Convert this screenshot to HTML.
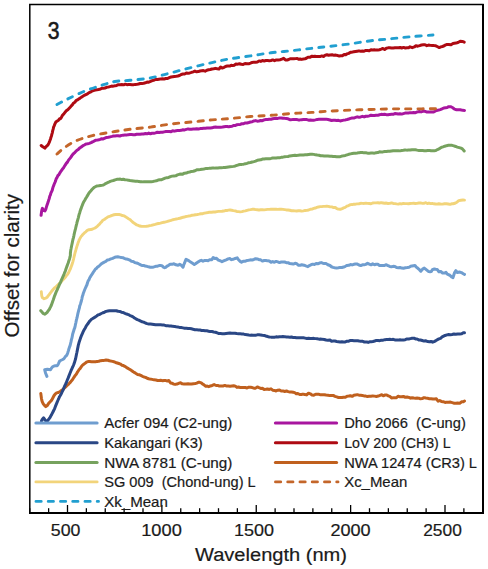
<!DOCTYPE html>
<html><head><meta charset="utf-8"><style>
html,body{margin:0;padding:0;background:#fff;}
body{width:488px;height:569px;overflow:hidden;}
svg{display:block;}
text{font-family:"Liberation Sans", sans-serif;fill:#1a1a1a;stroke:#1a1a1a;stroke-width:0.2px;}
</style></head><body>
<svg width="488" height="569" viewBox="0 0 488 569">
<rect x="0" y="0" width="488" height="569" fill="#fff"/>

<path d="M29.8 4.5 H483 V512.8 H29.8 Z" fill="none" stroke="#000" stroke-width="1.5"/>
<line x1="29" y1="512.9" x2="484" y2="512.9" stroke="#000" stroke-width="2"/>
<line x1="483" y1="4" x2="483" y2="513.8" stroke="#000" stroke-width="2"/>
<line x1="29.75" y1="508.2" x2="29.75" y2="512.5" stroke="#000" stroke-width="1.3"/>
<line x1="48.62" y1="508.2" x2="48.62" y2="512.5" stroke="#000" stroke-width="1.3"/>
<line x1="67.50" y1="505.0" x2="67.50" y2="512.5" stroke="#000" stroke-width="1.3"/>
<line x1="86.38" y1="508.2" x2="86.38" y2="512.5" stroke="#000" stroke-width="1.3"/>
<line x1="105.25" y1="508.2" x2="105.25" y2="512.5" stroke="#000" stroke-width="1.3"/>
<line x1="124.12" y1="508.2" x2="124.12" y2="512.5" stroke="#000" stroke-width="1.3"/>
<line x1="143.00" y1="508.2" x2="143.00" y2="512.5" stroke="#000" stroke-width="1.3"/>
<line x1="161.88" y1="505.0" x2="161.88" y2="512.5" stroke="#000" stroke-width="1.3"/>
<line x1="180.75" y1="508.2" x2="180.75" y2="512.5" stroke="#000" stroke-width="1.3"/>
<line x1="199.62" y1="508.2" x2="199.62" y2="512.5" stroke="#000" stroke-width="1.3"/>
<line x1="218.50" y1="508.2" x2="218.50" y2="512.5" stroke="#000" stroke-width="1.3"/>
<line x1="237.38" y1="508.2" x2="237.38" y2="512.5" stroke="#000" stroke-width="1.3"/>
<line x1="256.25" y1="505.0" x2="256.25" y2="512.5" stroke="#000" stroke-width="1.3"/>
<line x1="275.12" y1="508.2" x2="275.12" y2="512.5" stroke="#000" stroke-width="1.3"/>
<line x1="294.00" y1="508.2" x2="294.00" y2="512.5" stroke="#000" stroke-width="1.3"/>
<line x1="312.88" y1="508.2" x2="312.88" y2="512.5" stroke="#000" stroke-width="1.3"/>
<line x1="331.75" y1="508.2" x2="331.75" y2="512.5" stroke="#000" stroke-width="1.3"/>
<line x1="350.62" y1="505.0" x2="350.62" y2="512.5" stroke="#000" stroke-width="1.3"/>
<line x1="369.50" y1="508.2" x2="369.50" y2="512.5" stroke="#000" stroke-width="1.3"/>
<line x1="388.38" y1="508.2" x2="388.38" y2="512.5" stroke="#000" stroke-width="1.3"/>
<line x1="407.25" y1="508.2" x2="407.25" y2="512.5" stroke="#000" stroke-width="1.3"/>
<line x1="426.12" y1="508.2" x2="426.12" y2="512.5" stroke="#000" stroke-width="1.3"/>
<line x1="445.00" y1="505.0" x2="445.00" y2="512.5" stroke="#000" stroke-width="1.3"/>
<line x1="463.88" y1="508.2" x2="463.88" y2="512.5" stroke="#000" stroke-width="1.3"/>
<line x1="482.75" y1="508.2" x2="482.75" y2="512.5" stroke="#000" stroke-width="1.3"/>
<text x="50.80" y="536" font-size="16.5" textLength="29.60" lengthAdjust="spacingAndGlyphs">500</text>
<text x="141.20" y="536" font-size="16.5" textLength="40.60" lengthAdjust="spacingAndGlyphs">1000</text>
<text x="234.00" y="536" font-size="16.5" textLength="40.00" lengthAdjust="spacingAndGlyphs">1500</text>
<text x="330.40" y="536" font-size="16.5" textLength="40.20" lengthAdjust="spacingAndGlyphs">2000</text>
<text x="423.20" y="536" font-size="16.5" textLength="38.60" lengthAdjust="spacingAndGlyphs">2500</text>
<text x="195" y="560.5" font-size="18.8" textLength="152" lengthAdjust="spacingAndGlyphs">Wavelength (nm)</text>
<text transform="translate(18.5 337.4) rotate(-90)" font-size="19.3" textLength="143.5" lengthAdjust="spacingAndGlyphs">Offset for clarity</text>
<text transform="translate(47.8 38.6) scale(0.9 1)" font-size="23.5" style="stroke-width:0.6px">3</text>
<path d="M40.80 393.60 L40.96 394.62 L41.15 396.23 L41.41 398.17 L41.76 400.02 L42.20 401.60 L43.27 403.84 L44.59 405.44 L45.80 406.60 L47.19 405.55 L48.50 403.59 L49.94 401.95 L51.50 400.38 L52.32 398.91 L53.18 397.30 L54.09 395.52 L55.10 394.23 L56.63 392.91 L58.32 392.50 L60.10 391.54 L61.50 390.55 L62.96 389.50 L64.44 388.01 L65.90 386.57 L67.00 385.47 L68.06 384.67 L69.13 383.48 L70.29 382.35 L71.60 380.64 L72.43 379.73 L73.32 378.26 L74.27 376.87 L75.26 375.37 L76.26 374.19 L77.25 372.43 L78.22 370.95 L79.14 369.52 L80.00 368.72 L81.36 366.70 L82.57 365.12 L83.73 364.27 L84.97 363.33 L86.40 362.20 L88.01 361.60 L89.73 361.55 L91.56 361.69 L93.52 361.77 L95.60 361.77 L97.18 361.40 L98.84 361.26 L100.56 360.68 L102.34 360.40 L104.16 360.38 L106.02 359.96 L107.90 360.22 L109.39 360.76 L110.91 361.08 L112.47 361.37 L114.05 361.79 L115.64 362.47 L117.24 363.00 L118.84 363.51 L120.43 364.11 L122.00 365.19 L123.40 365.57 L124.81 366.30 L126.21 367.20 L127.61 368.16 L129.01 368.96 L130.40 369.85 L131.80 370.76 L133.20 371.79 L134.60 372.57 L136.00 373.50 L137.57 374.45 L139.17 374.76 L140.79 375.38 L142.40 376.30 L144.00 376.99 L145.58 377.40 L147.11 378.26 L148.59 378.76 L150.00 379.05 L152.04 379.36 L154.01 379.84 L155.90 379.99 L157.66 380.44 L159.27 380.56 L160.70 380.34 L162.69 380.66 L164.07 380.42 L165.90 380.59 L167.26 380.93 L168.86 380.56 L170.57 382.98 L172.26 383.32 L173.82 384.11 L175.10 384.39 L176.96 384.06 L179.20 383.16 L180.56 382.83 L182.24 383.85 L184.11 384.10 L186.09 384.01 L188.05 383.81 L189.89 383.91 L191.50 383.92 L193.44 383.66 L195.18 383.56 L196.77 383.09 L198.26 382.37 L199.70 382.34 L201.27 382.88 L202.62 384.02 L204.03 384.87 L205.80 386.30 L207.23 386.10 L208.79 386.63 L210.46 385.94 L212.24 385.44 L214.13 384.59 L216.10 385.49 L217.69 385.38 L219.41 386.10 L221.21 386.00 L223.06 385.95 L224.90 385.42 L226.70 386.10 L228.41 385.97 L230.00 386.19 L231.91 385.93 L233.67 385.73 L235.33 386.16 L236.93 387.39 L238.54 387.06 L240.20 387.45 L241.91 387.58 L243.63 387.50 L245.35 387.56 L247.07 387.99 L248.79 387.16 L250.50 387.31 L252.20 387.56 L253.90 388.14 L255.60 388.14 L257.30 386.94 L259.00 387.73 L260.70 388.42 L262.41 388.36 L264.13 389.38 L265.85 389.35 L267.57 389.06 L269.29 389.46 L271.00 388.78 L272.70 390.20 L274.40 390.39 L276.10 390.97 L277.80 390.24 L279.50 390.04 L281.20 391.05 L282.94 390.91 L284.70 391.49 L286.48 391.00 L288.22 391.64 L289.90 392.00 L291.50 392.03 L293.21 392.28 L294.73 392.60 L296.23 393.68 L297.83 393.47 L299.70 394.47 L301.26 394.55 L302.98 394.11 L304.79 394.47 L306.66 394.87 L308.52 393.15 L310.32 393.86 L312.00 395.00 L313.85 395.16 L315.64 394.25 L317.38 394.29 L319.06 394.35 L320.66 394.86 L322.20 394.86 L324.26 394.74 L326.10 395.07 L327.94 395.25 L330.00 395.62 L331.56 395.57 L333.22 395.44 L334.94 396.36 L336.70 396.87 L338.47 397.45 L340.20 397.46 L341.91 397.55 L343.63 397.24 L345.35 397.35 L347.07 396.22 L348.79 396.05 L350.50 395.74 L352.20 396.36 L353.90 395.29 L355.60 394.90 L357.30 394.64 L359.00 395.14 L360.70 395.23 L362.39 395.51 L364.05 395.90 L365.72 396.10 L367.41 396.54 L369.17 396.34 L371.00 396.17 L372.69 395.88 L374.49 396.12 L376.35 396.42 L378.21 396.05 L380.03 395.37 L381.74 394.74 L383.30 395.79 L385.17 394.90 L386.78 395.05 L388.27 395.86 L389.80 396.43 L391.50 397.90 L393.08 397.85 L394.75 397.77 L396.47 397.68 L398.22 396.16 L399.97 396.85 L401.70 396.77 L403.45 396.45 L405.26 397.36 L407.06 396.95 L408.82 397.36 L410.48 398.16 L412.00 397.74 L413.90 398.01 L415.49 398.13 L417.04 398.09 L418.80 398.13 L420.43 398.79 L422.18 398.59 L423.98 397.63 L425.81 398.04 L427.60 398.34 L429.36 398.72 L431.12 398.78 L432.89 399.07 L434.65 399.09 L436.40 398.78 L438.09 401.23 L439.71 400.49 L441.36 401.41 L443.12 401.67 L445.10 402.48 L446.72 402.15 L448.53 402.32 L450.44 402.06 L452.37 402.66 L454.24 403.18 L455.98 403.16 L457.50 403.03 L459.79 403.19 L461.77 401.80 L463.37 401.68 L464.50 401.00" fill="none" stroke="#C0601E" stroke-width="3.0" stroke-linejoin="round" stroke-linecap="round"/>
<path d="M41.50 420.90 L42.37 419.18 L43.60 417.87 L44.96 419.93 L46.50 421.46 L47.62 420.72 L48.82 419.09 L50.10 417.33 L50.78 415.98 L51.48 414.92 L52.21 413.44 L52.94 411.99 L53.68 410.51 L54.40 409.11 L55.12 407.25 L55.83 405.41 L56.55 403.66 L57.27 401.85 L57.98 400.26 L58.70 398.69 L59.42 396.89 L60.13 395.79 L60.85 394.51 L61.57 393.07 L62.28 391.50 L63.00 390.06 L63.73 388.31 L64.47 386.47 L65.22 384.90 L65.95 383.55 L66.65 381.68 L67.30 380.00 L67.99 378.40 L68.59 376.88 L69.17 375.42 L69.79 373.77 L70.50 371.98 L71.09 370.49 L71.73 369.08 L72.40 367.54 L73.09 366.19 L73.78 364.54 L74.46 362.60 L75.10 360.35 L75.48 359.21 L75.85 357.49 L76.20 355.78 L76.54 353.97 L76.88 352.48 L77.23 350.71 L77.58 348.86 L77.95 347.11 L78.34 345.06 L78.75 343.58 L79.20 341.96 L79.79 340.22 L80.42 338.38 L81.08 336.60 L81.77 334.85 L82.47 333.31 L83.19 331.66 L83.90 330.26 L84.61 329.09 L85.30 327.95 L86.30 325.91 L87.29 324.49 L88.27 323.25 L89.28 321.60 L90.35 320.49 L91.50 319.29 L92.75 318.56 L94.09 317.66 L95.48 316.92 L96.89 315.83 L98.31 314.82 L99.70 314.29 L101.31 313.49 L102.88 312.76 L104.48 312.21 L106.13 311.40 L107.90 311.06 L109.46 310.82 L111.09 310.78 L112.77 310.69 L114.50 310.85 L116.28 310.71 L118.10 311.28 L119.73 311.38 L121.43 312.16 L123.17 312.46 L124.93 313.37 L126.67 314.03 L128.37 314.57 L130.00 315.57 L131.55 316.10 L133.04 316.83 L134.49 317.94 L135.91 318.85 L137.33 319.58 L138.75 320.11 L140.20 320.82 L141.91 321.74 L143.63 322.13 L145.35 323.00 L147.07 323.61 L148.79 323.94 L150.50 324.03 L152.20 324.24 L153.90 324.50 L155.60 324.77 L157.30 324.71 L159.00 324.86 L160.70 324.77 L162.41 324.89 L164.13 325.08 L165.85 325.63 L167.57 325.65 L169.29 326.03 L171.00 325.93 L172.70 326.34 L174.40 326.39 L176.10 326.79 L177.80 327.05 L179.50 327.40 L181.20 327.60 L182.91 327.87 L184.63 328.17 L186.35 328.25 L188.07 328.44 L189.79 328.59 L191.50 328.77 L193.20 329.32 L194.90 329.70 L196.60 329.65 L198.30 330.02 L200.00 330.05 L201.70 330.41 L203.41 330.55 L205.13 330.73 L206.85 330.84 L208.57 331.19 L210.29 331.59 L212.00 331.54 L213.73 331.94 L215.50 332.23 L217.26 332.91 L218.98 333.57 L220.64 333.60 L222.20 333.68 L224.26 333.71 L226.10 333.50 L227.94 333.27 L230.00 332.99 L231.56 333.22 L233.22 333.17 L234.94 333.28 L236.70 333.59 L238.47 333.70 L240.20 333.84 L241.91 333.96 L243.63 334.08 L245.35 334.57 L247.07 334.75 L248.79 335.04 L250.50 335.20 L252.20 335.12 L253.90 335.33 L255.60 335.21 L257.30 334.87 L259.00 334.75 L260.70 334.94 L262.41 335.27 L264.13 335.39 L265.85 336.01 L267.57 336.55 L269.29 336.96 L271.00 337.13 L272.70 337.18 L274.40 337.18 L276.10 336.85 L277.80 337.03 L279.50 336.68 L281.20 336.65 L282.91 336.56 L284.63 336.65 L286.35 337.05 L288.07 337.07 L289.79 337.18 L291.50 336.93 L293.20 337.58 L294.90 337.43 L296.60 337.74 L298.30 337.75 L300.00 337.66 L301.70 337.81 L303.41 337.80 L305.13 338.11 L306.85 338.46 L308.57 338.21 L310.29 338.45 L312.00 338.44 L313.73 338.37 L315.50 338.63 L317.26 338.81 L318.98 339.14 L320.64 339.00 L322.20 339.36 L324.26 339.47 L326.10 340.02 L327.94 340.29 L330.00 340.04 L331.56 341.20 L333.22 341.06 L334.94 341.08 L336.70 341.49 L338.47 341.77 L340.20 342.06 L341.91 341.74 L343.63 341.95 L345.35 341.92 L347.07 341.21 L348.79 341.23 L350.50 340.47 L352.25 340.53 L354.06 340.68 L355.86 340.64 L357.60 340.80 L359.23 341.08 L360.70 341.28 L362.76 341.37 L364.38 342.01 L366.90 342.05 L368.16 342.40 L369.61 341.82 L371.21 341.70 L372.92 341.50 L374.67 340.99 L376.43 340.38 L378.14 340.51 L379.74 340.68 L381.20 340.27 L383.15 340.13 L384.93 339.67 L386.61 339.57 L388.22 339.54 L389.84 339.31 L391.50 339.61 L393.20 339.29 L394.90 339.95 L396.60 339.97 L398.30 340.11 L400.00 339.83 L401.70 340.11 L403.45 339.89 L405.26 339.65 L407.06 338.93 L408.82 338.95 L410.48 338.60 L412.00 338.29 L413.90 338.16 L415.49 338.96 L417.04 338.98 L418.80 339.93 L420.46 339.96 L422.26 340.49 L424.11 341.07 L425.92 340.76 L427.60 341.53 L429.39 341.71 L430.99 341.50 L432.65 342.19 L434.60 341.31 L435.93 340.59 L437.39 339.66 L438.94 338.82 L440.54 338.32 L442.12 336.96 L443.66 336.20 L445.10 335.45 L446.94 334.88 L448.66 334.60 L450.33 334.67 L452.05 334.43 L453.90 334.01 L455.69 334.25 L457.69 333.93 L459.75 333.95 L461.69 333.74 L463.33 332.65 L464.50 332.80" fill="none" stroke="#2A4785" stroke-width="3.0" stroke-linejoin="round" stroke-linecap="round"/>
<path d="M46.90 376.40 L46.39 375.05 L45.63 373.23 L44.96 370.86 L44.70 369.75 L47.40 369.28 L50.50 369.71 L51.56 367.97 L52.63 366.82 L53.70 366.15 L55.31 365.71 L56.90 365.75 L57.69 365.23 L58.48 363.56 L59.26 361.76 L60.00 360.75 L62.70 359.51 L63.92 358.72 L65.25 356.70 L66.40 355.71 L67.22 354.21 L67.86 352.42 L68.50 350.39 L69.03 348.39 L69.55 346.90 L70.07 345.67 L70.60 343.50 L71.02 341.64 L71.44 339.43 L71.86 338.26 L72.28 336.18 L72.70 333.94 L73.24 332.31 L73.78 330.51 L74.31 328.79 L74.80 327.65 L75.18 325.91 L75.49 324.32 L75.86 322.72 L76.40 320.02 L76.72 318.91 L77.09 317.49 L77.49 315.47 L77.92 313.41 L78.37 311.67 L78.83 309.82 L79.29 308.40 L79.75 305.87 L80.20 304.71 L80.63 303.46 L81.05 301.97 L81.47 300.51 L81.89 298.78 L82.32 296.43 L82.77 295.47 L83.24 293.54 L83.75 292.19 L84.30 290.81 L84.89 289.30 L85.52 287.78 L86.18 286.29 L86.86 284.99 L87.57 282.51 L88.29 280.67 L89.02 279.72 L89.76 277.72 L90.50 276.57 L91.46 275.04 L92.43 273.70 L93.42 272.00 L94.43 270.56 L95.47 269.03 L96.52 268.41 L97.60 267.06 L98.88 266.24 L100.18 265.00 L101.51 263.68 L102.88 262.86 L104.30 262.09 L105.80 261.48 L107.41 259.93 L109.12 259.66 L110.89 258.92 L112.67 258.37 L114.39 257.49 L116.00 256.94 L117.82 256.79 L119.58 257.13 L121.26 257.61 L122.84 257.63 L124.30 258.31 L126.23 259.08 L127.86 259.33 L130.00 260.23 L131.44 261.19 L133.07 261.42 L134.83 262.61 L136.65 263.02 L138.46 263.72 L140.20 264.62 L141.87 265.47 L143.54 265.40 L145.19 266.00 L146.85 266.31 L148.52 266.82 L150.20 267.23 L151.97 267.24 L153.84 266.93 L155.72 266.30 L157.51 266.15 L159.14 265.57 L160.50 265.41 L162.33 266.00 L163.46 267.16 L164.60 267.75 L165.66 267.28 L166.73 266.37 L168.70 265.17 L170.12 264.16 L171.92 264.35 L173.94 263.81 L176.02 264.83 L178.00 265.23 L179.71 264.32 L181.00 265.06 L183.00 267.17 L183.70 265.01 L184.49 263.23 L185.31 260.90 L186.10 259.28 L189.00 260.83 L190.63 262.07 L192.53 263.30 L194.30 264.49 L195.49 263.72 L196.54 262.95 L198.40 261.72 L199.69 260.89 L201.28 260.31 L203.06 261.22 L204.91 260.45 L206.71 260.40 L208.35 260.65 L209.70 259.63 L211.78 259.84 L213.17 257.47 L214.80 258.53 L216.48 258.31 L218.34 260.10 L220.23 260.70 L222.00 261.66 L224.16 260.69 L226.20 259.82 L228.10 258.87 L229.85 258.60 L231.46 259.64 L233.00 259.32 L235.22 258.46 L237.20 257.81 L238.32 259.54 L240.20 261.42 L241.50 262.15 L243.10 261.34 L244.90 261.27 L246.80 260.56 L248.70 260.28 L250.50 259.87 L252.20 259.96 L253.90 259.46 L255.60 258.72 L257.30 258.99 L259.00 259.73 L260.70 259.83 L262.41 261.11 L264.13 260.49 L265.85 260.43 L267.57 260.86 L269.29 261.07 L271.00 262.25 L272.70 261.61 L274.40 262.22 L276.10 261.38 L277.80 261.89 L279.50 262.56 L281.20 262.04 L282.91 261.93 L284.63 262.00 L286.35 262.63 L288.07 262.69 L289.79 263.62 L291.50 263.79 L293.25 264.07 L295.06 263.29 L296.86 263.76 L298.60 265.28 L300.23 265.19 L301.70 264.83 L303.99 265.20 L305.83 265.92 L307.90 266.64 L309.41 265.54 L311.04 264.72 L312.72 264.13 L314.43 264.48 L316.10 263.48 L317.78 263.75 L319.50 263.02 L321.20 262.61 L322.82 263.20 L324.30 263.57 L326.22 263.60 L327.86 264.77 L330.00 265.52 L331.44 266.73 L333.06 267.37 L334.81 267.77 L336.63 268.05 L338.44 267.78 L340.20 267.38 L341.91 267.50 L343.63 267.02 L345.35 266.27 L347.07 265.44 L348.79 265.27 L350.50 264.53 L352.20 264.91 L353.90 264.33 L355.60 263.93 L357.30 264.11 L359.00 265.01 L360.70 265.62 L362.41 264.80 L364.13 264.77 L365.85 264.38 L367.57 263.30 L369.29 264.16 L371.00 264.84 L372.70 263.87 L374.40 264.73 L376.10 264.20 L377.80 264.34 L379.50 265.54 L381.20 265.59 L382.91 265.51 L384.63 265.45 L386.35 264.72 L388.07 265.74 L389.79 266.47 L391.50 266.81 L393.20 266.35 L394.90 266.49 L396.60 267.59 L398.30 267.68 L400.00 267.50 L401.70 268.07 L403.50 268.31 L405.40 267.80 L407.30 267.55 L409.10 267.20 L410.70 266.27 L412.00 265.91 L415.00 265.44 L416.31 267.08 L417.87 268.29 L419.45 269.71 L420.80 271.27 L422.55 269.16 L424.30 268.13 L425.62 269.12 L427.15 270.33 L428.70 271.59 L430.10 271.79 L431.33 271.61 L432.39 269.73 L434.40 268.96 L435.65 269.22 L437.19 269.46 L438.92 271.73 L440.76 271.41 L442.61 273.08 L444.38 273.05 L445.97 272.35 L447.30 274.21 L449.84 275.25 L451.57 276.93 L453.00 277.62 L453.96 274.54 L454.61 272.60 L455.90 270.64 L457.39 272.59 L459.34 271.96 L461.41 272.57 L463.24 273.74 L464.50 274.40" fill="none" stroke="#6F9DCF" stroke-width="3.0" stroke-linejoin="round" stroke-linecap="round"/>
<path d="M41.30 291.70 L41.48 293.46 L41.79 296.06 L42.40 297.66 L44.02 298.76 L46.30 297.87 L47.19 297.29 L48.13 295.86 L49.15 294.56 L50.24 293.07 L51.43 291.52 L52.70 290.03 L53.76 288.83 L54.93 287.54 L56.18 286.55 L57.46 285.27 L58.74 284.05 L59.98 282.93 L61.14 281.88 L62.20 280.64 L63.46 279.26 L64.63 277.96 L65.70 276.72 L66.70 275.21 L67.63 274.17 L68.50 272.87 L69.29 271.20 L70.00 269.70 L70.63 268.34 L71.23 266.52 L71.81 265.13 L72.40 263.23 L72.84 261.81 L73.27 260.06 L73.68 258.51 L74.08 256.77 L74.49 255.13 L74.91 253.29 L75.34 251.70 L75.80 250.23 L76.34 248.20 L76.90 246.38 L77.46 244.80 L78.05 242.79 L78.66 241.33 L79.31 239.63 L80.00 238.36 L80.99 236.63 L82.00 235.52 L83.09 234.20 L84.34 232.91 L85.80 231.82 L87.29 230.36 L89.01 229.68 L90.86 229.54 L92.70 229.00 L94.42 228.28 L95.90 227.41 L97.28 226.30 L98.36 225.16 L99.32 224.34 L100.34 223.01 L101.60 221.90 L102.88 220.19 L104.30 219.51 L105.81 218.42 L107.33 217.36 L108.81 216.53 L110.20 216.13 L112.11 215.30 L113.92 214.76 L115.68 214.49 L117.40 214.53 L119.11 214.49 L120.78 214.89 L122.41 215.55 L124.00 215.83 L125.49 216.70 L126.90 217.60 L128.36 218.72 L130.00 219.50 L131.24 220.77 L132.57 222.04 L133.96 223.06 L135.39 223.94 L136.81 224.94 L138.20 225.42 L139.77 226.03 L141.28 226.27 L142.82 226.35 L144.50 226.36 L146.40 226.29 L147.94 226.11 L149.62 225.58 L151.38 225.38 L153.21 224.78 L155.07 224.30 L156.91 223.78 L158.70 223.46 L160.46 223.15 L162.21 222.64 L163.97 222.28 L165.73 221.89 L167.49 221.39 L169.24 220.81 L171.00 220.42 L172.76 219.73 L174.51 219.36 L176.27 219.05 L178.03 218.70 L179.79 218.25 L181.54 217.74 L183.30 217.23 L185.06 216.79 L186.81 216.43 L188.57 216.06 L190.33 215.87 L192.09 215.23 L193.84 215.04 L195.60 214.74 L197.36 214.50 L199.11 214.19 L200.87 213.75 L202.63 213.69 L204.39 213.16 L206.14 212.81 L207.90 212.52 L209.68 212.13 L211.49 212.23 L213.30 212.03 L215.10 211.96 L216.87 211.65 L218.57 211.40 L220.20 211.40 L221.97 211.28 L223.64 211.02 L225.23 210.52 L226.80 210.54 L228.37 210.13 L230.00 210.03 L231.68 210.22 L233.37 210.57 L235.07 210.84 L236.78 211.46 L238.49 211.59 L240.20 211.86 L241.91 211.65 L243.63 211.14 L245.35 210.90 L247.07 210.39 L248.79 209.93 L250.50 209.66 L252.20 209.30 L253.90 209.30 L255.60 209.59 L257.30 209.73 L259.00 209.94 L260.70 209.75 L262.41 209.58 L264.13 209.82 L265.85 209.61 L267.57 209.37 L269.29 209.37 L271.00 209.22 L272.70 209.17 L274.40 209.29 L276.10 209.27 L277.80 209.35 L279.50 209.23 L281.20 209.12 L282.91 209.34 L284.63 209.64 L286.35 209.94 L288.07 210.01 L289.79 210.27 L291.50 210.74 L293.20 210.66 L294.90 210.89 L296.60 210.94 L298.30 210.82 L300.00 210.72 L301.70 211.10 L303.44 210.91 L305.20 210.46 L306.98 210.34 L308.72 210.02 L310.40 209.26 L312.00 209.11 L313.75 208.44 L315.35 208.02 L316.91 207.43 L318.49 206.95 L320.20 206.66 L321.76 206.64 L323.41 206.36 L325.10 206.42 L326.79 206.19 L328.44 206.35 L330.00 206.85 L331.81 206.90 L333.59 207.57 L335.29 207.49 L336.85 208.67 L338.20 209.09 L340.25 209.30 L342.30 208.64 L343.65 207.85 L345.19 207.34 L346.88 206.17 L348.67 205.56 L350.50 204.62 L352.08 204.56 L353.75 204.29 L355.47 204.18 L357.22 203.92 L358.97 203.73 L360.70 203.30 L362.41 203.35 L364.13 203.44 L365.85 203.14 L367.57 203.35 L369.29 203.52 L371.00 203.80 L372.70 203.00 L374.40 202.87 L376.10 202.86 L377.80 202.73 L379.50 203.04 L381.20 202.68 L382.91 202.97 L384.63 203.24 L386.35 203.02 L388.07 203.51 L389.79 203.39 L391.50 202.86 L393.20 203.47 L394.90 203.61 L396.60 203.92 L398.30 204.08 L400.00 203.60 L401.70 203.94 L403.39 203.46 L405.05 203.66 L406.72 203.62 L408.41 203.76 L410.17 203.45 L412.00 203.42 L413.63 203.28 L415.31 203.46 L417.02 203.34 L418.78 203.04 L420.57 202.95 L422.42 203.39 L424.30 203.25 L425.81 202.74 L427.36 203.55 L428.95 203.05 L430.56 203.58 L432.19 203.41 L433.83 203.80 L435.47 203.95 L437.09 204.17 L438.70 203.78 L440.55 204.03 L442.48 204.13 L444.44 203.78 L446.39 203.78 L448.26 204.02 L450.02 204.40 L451.62 203.79 L453.00 203.72 L455.05 203.26 L456.44 202.45 L457.56 201.68 L458.80 200.62 L460.92 200.24 L463.03 200.01 L464.50 200.10" fill="none" stroke="#F2D47A" stroke-width="2.9" stroke-linejoin="round" stroke-linecap="round"/>
<path d="M40.80 310.70 L41.78 311.81 L43.19 313.42 L44.70 314.12 L45.80 313.45 L46.95 312.64 L48.17 310.98 L49.50 309.12 L50.08 307.77 L50.69 306.60 L51.33 305.24 L51.98 303.45 L52.65 301.50 L53.32 299.69 L53.97 297.76 L54.61 295.85 L55.22 294.37 L55.80 292.93 L56.57 291.05 L57.28 289.51 L57.97 287.95 L58.63 286.58 L59.28 284.88 L59.93 283.52 L60.60 282.11 L61.28 280.36 L61.95 278.88 L62.62 277.42 L63.29 275.90 L63.96 274.31 L64.63 272.57 L65.30 271.03 L65.84 269.37 L66.42 267.78 L67.01 266.13 L67.60 264.55 L68.18 262.98 L68.72 261.30 L69.22 259.71 L69.65 258.41 L70.00 257.16 L70.38 255.16 L70.38 254.12 L70.40 253.01 L70.80 249.91 L71.03 248.84 L71.29 247.42 L71.58 245.99 L71.90 244.52 L72.25 242.91 L72.61 241.07 L72.99 239.21 L73.39 237.83 L73.79 236.08 L74.20 234.05 L74.61 232.23 L75.01 230.59 L75.41 229.14 L75.80 227.48 L76.22 225.57 L76.64 224.10 L77.07 222.20 L77.50 220.74 L77.94 219.18 L78.38 217.58 L78.82 215.67 L79.27 213.98 L79.72 212.65 L80.16 211.07 L80.61 209.79 L81.06 208.67 L81.50 207.30 L82.21 205.41 L82.91 203.66 L83.61 202.10 L84.31 200.92 L85.03 199.75 L85.76 198.34 L86.51 197.21 L87.30 195.89 L88.44 193.94 L89.67 192.15 L90.94 190.75 L92.19 189.26 L93.36 188.14 L94.40 187.23 L96.73 185.95 L98.70 185.80 L100.67 185.51 L103.00 185.12 L104.23 184.45 L105.60 183.57 L107.08 182.93 L108.62 182.24 L110.20 181.38 L111.79 180.91 L113.41 180.52 L115.11 179.91 L116.89 179.31 L118.80 179.29 L120.25 179.07 L121.78 179.56 L123.36 179.32 L124.99 179.71 L126.64 179.87 L128.32 180.15 L130.00 180.52 L131.70 180.66 L133.43 180.89 L135.19 181.20 L136.97 181.14 L138.75 181.44 L140.53 181.82 L142.30 181.87 L144.06 181.70 L145.81 181.86 L147.57 181.80 L149.33 181.82 L151.09 181.71 L152.84 181.43 L154.60 181.10 L156.36 180.81 L158.11 180.07 L159.87 179.84 L161.63 179.64 L163.39 178.86 L165.14 178.09 L166.90 177.66 L168.66 177.45 L170.41 176.66 L172.17 176.12 L173.93 175.92 L175.69 175.80 L177.44 174.92 L179.20 174.31 L180.96 174.10 L182.71 174.15 L184.47 173.18 L186.23 173.07 L187.99 172.32 L189.74 172.02 L191.50 171.44 L193.26 171.30 L195.01 170.73 L196.77 169.86 L198.53 169.73 L200.29 169.53 L202.04 169.28 L203.80 169.02 L205.54 168.61 L207.27 168.39 L208.99 168.33 L210.72 168.18 L212.47 168.03 L214.26 168.12 L216.10 167.90 L217.79 167.92 L219.55 167.76 L221.36 167.65 L223.18 167.60 L224.99 167.44 L226.75 167.17 L228.43 166.92 L230.00 166.79 L231.91 166.63 L233.67 166.37 L235.33 165.97 L236.93 165.36 L238.54 164.80 L240.20 164.47 L241.91 164.38 L243.63 164.16 L245.35 163.75 L247.07 163.38 L248.79 162.65 L250.50 162.56 L252.20 162.06 L253.90 161.63 L255.60 161.10 L257.30 160.34 L259.00 160.08 L260.70 159.83 L262.41 159.06 L264.13 158.98 L265.85 158.83 L267.57 158.84 L269.29 158.71 L271.00 158.40 L272.70 158.01 L274.40 158.08 L276.10 157.93 L277.80 157.77 L279.50 157.83 L281.20 157.31 L282.91 157.14 L284.63 156.84 L286.35 156.63 L288.07 156.47 L289.79 155.89 L291.50 155.66 L293.20 155.45 L294.90 155.35 L296.60 155.59 L298.30 155.16 L300.00 155.03 L301.70 154.92 L303.41 154.96 L305.13 154.84 L306.85 154.81 L308.57 154.49 L310.29 154.16 L312.00 154.23 L313.73 154.38 L315.50 154.83 L317.26 155.10 L318.98 155.27 L320.64 155.73 L322.20 155.75 L324.26 155.99 L326.10 156.07 L327.94 156.04 L330.00 156.20 L331.56 156.23 L333.22 156.52 L334.94 156.51 L336.70 156.77 L338.47 156.78 L340.20 156.67 L341.91 156.06 L343.63 155.81 L345.35 155.45 L347.07 154.88 L348.79 154.30 L350.50 153.86 L352.20 153.56 L353.90 153.30 L355.60 153.17 L357.30 153.05 L359.00 152.65 L360.70 152.56 L362.41 152.46 L364.13 152.86 L365.85 152.75 L367.57 153.16 L369.29 153.17 L371.00 153.07 L372.70 153.07 L374.40 153.13 L376.10 152.69 L377.80 152.57 L379.50 151.86 L381.20 151.94 L382.91 151.89 L384.63 151.43 L386.35 151.47 L388.07 151.28 L389.79 151.26 L391.50 151.02 L393.20 150.76 L394.90 150.74 L396.60 150.74 L398.30 150.63 L400.00 150.87 L401.70 150.53 L403.39 150.27 L405.05 149.97 L406.72 150.13 L408.41 150.08 L410.17 150.04 L412.00 149.67 L413.66 149.73 L415.39 149.70 L417.17 150.11 L418.98 150.43 L420.79 150.52 L422.57 150.49 L424.30 150.71 L426.02 150.71 L427.77 150.59 L429.51 150.54 L431.21 150.77 L432.85 150.65 L434.39 150.65 L435.80 150.53 L437.52 149.55 L438.99 148.95 L440.33 148.08 L441.63 147.23 L443.00 146.91 L444.80 146.19 L446.61 145.67 L448.41 145.32 L450.20 145.23 L452.03 145.36 L453.88 145.85 L455.67 146.46 L457.30 147.09 L459.27 147.63 L461.02 148.19 L462.40 148.89 L464.20 151.00" fill="none" stroke="#76A25E" stroke-width="3.0" stroke-linejoin="round" stroke-linecap="round"/>
<path d="M41.10 215.30 L41.30 213.65 L41.59 211.63 L41.95 209.73 L42.40 208.35 L43.61 210.26 L45.00 210.89 L45.68 209.62 L46.38 207.11 L47.06 205.01 L47.70 203.16 L48.26 201.58 L48.77 199.85 L49.27 198.46 L49.80 196.16 L50.34 195.11 L50.87 193.18 L51.47 191.89 L52.20 190.36 L52.69 188.40 L53.22 186.61 L53.79 185.41 L54.38 183.59 L55.01 182.35 L55.65 180.62 L56.30 178.57 L57.10 177.36 L57.96 175.49 L58.85 174.78 L59.74 173.14 L60.60 171.80 L61.40 170.60 L62.47 169.08 L63.45 167.98 L64.43 166.32 L65.50 164.63 L66.46 163.16 L67.47 162.11 L68.51 160.10 L69.56 158.87 L70.60 157.63 L71.87 155.61 L73.14 153.97 L74.42 152.92 L75.70 151.56 L77.00 150.20 L78.30 149.42 L79.60 148.09 L80.90 147.22 L82.61 145.93 L84.30 145.03 L86.00 143.96 L87.65 143.77 L89.30 143.33 L91.10 142.67 L92.44 141.90 L93.77 141.27 L95.39 140.33 L97.60 140.02 L98.83 139.77 L100.20 139.34 L101.68 138.68 L103.26 138.90 L104.92 138.15 L106.64 137.41 L108.41 137.31 L110.20 136.85 L112.00 136.41 L113.49 135.98 L115.02 135.95 L116.58 135.77 L118.18 135.70 L119.80 136.11 L121.45 135.38 L123.12 135.20 L124.81 135.06 L126.53 135.10 L128.26 134.65 L130.00 134.55 L131.62 134.62 L133.27 134.74 L134.95 134.68 L136.65 134.32 L138.36 134.32 L140.09 134.15 L141.83 133.91 L143.57 134.07 L145.32 133.55 L147.05 133.82 L148.78 133.03 L150.50 133.78 L152.21 133.16 L153.92 133.28 L155.62 132.85 L157.33 132.17 L159.04 132.54 L160.75 132.25 L162.46 132.30 L164.17 131.88 L165.88 131.57 L167.58 131.62 L169.29 131.57 L171.00 131.70 L172.71 130.82 L174.42 131.13 L176.12 130.70 L177.83 130.39 L179.54 130.45 L181.25 130.32 L182.96 129.79 L184.67 129.90 L186.38 129.34 L188.08 128.91 L189.79 129.16 L191.50 129.16 L193.22 129.04 L194.95 128.96 L196.68 128.71 L198.43 129.03 L200.17 128.59 L201.91 128.59 L203.64 128.31 L205.35 128.22 L207.05 128.08 L208.73 128.08 L210.38 128.10 L212.00 127.81 L213.76 127.26 L215.53 127.12 L217.30 127.16 L219.06 127.35 L220.79 127.23 L222.49 127.09 L224.13 126.74 L225.72 126.50 L227.24 126.46 L228.67 126.85 L230.00 126.50 L232.15 126.15 L233.97 125.41 L235.58 125.39 L237.08 124.68 L238.58 124.62 L240.20 124.45 L241.91 123.75 L243.63 123.64 L245.35 122.94 L247.07 123.02 L248.79 122.55 L250.50 122.04 L252.20 121.77 L253.90 120.91 L255.60 120.61 L257.30 121.21 L259.00 121.02 L260.70 120.41 L262.41 120.67 L264.13 119.85 L265.85 119.44 L267.57 119.51 L269.29 119.24 L271.00 119.26 L272.70 118.79 L274.40 118.52 L276.10 118.33 L277.80 118.39 L279.50 118.03 L281.20 117.93 L282.91 118.27 L284.63 118.37 L286.35 118.53 L288.07 118.81 L289.79 119.63 L291.50 119.63 L293.20 119.47 L294.90 119.49 L296.60 119.50 L298.30 119.89 L300.00 119.88 L301.70 119.69 L303.41 119.57 L305.13 119.45 L306.85 119.59 L308.57 120.15 L310.29 120.00 L312.00 120.31 L313.73 120.15 L315.50 119.86 L317.26 119.41 L318.98 119.34 L320.64 119.29 L322.20 119.36 L324.26 119.17 L326.10 119.14 L327.94 119.51 L330.00 119.99 L331.56 120.50 L333.22 120.28 L334.94 120.31 L336.70 120.59 L338.47 120.36 L340.20 120.92 L341.91 120.58 L343.63 120.12 L345.35 119.90 L347.07 119.47 L348.79 118.98 L350.50 118.39 L352.20 117.93 L353.90 118.04 L355.60 117.44 L357.30 116.86 L359.00 117.21 L360.70 116.97 L362.41 116.31 L364.13 116.90 L365.85 116.23 L367.57 116.30 L369.29 115.89 L371.00 115.18 L372.70 115.49 L374.40 115.41 L376.10 115.18 L377.80 115.30 L379.50 114.71 L381.20 114.36 L382.91 114.53 L384.63 114.28 L386.35 114.65 L388.07 114.79 L389.79 114.41 L391.50 114.33 L393.20 114.34 L394.90 113.48 L396.60 113.67 L398.30 114.03 L400.00 113.80 L401.70 114.12 L403.39 113.59 L405.05 113.12 L406.72 113.01 L408.41 113.03 L410.17 112.65 L412.00 112.75 L413.70 112.59 L415.52 112.63 L417.40 111.89 L419.28 111.56 L421.10 111.89 L422.79 111.36 L424.30 111.03 L426.46 111.93 L428.22 111.96 L429.82 112.04 L431.50 111.89 L433.23 112.02 L434.92 111.26 L436.70 110.41 L438.70 110.06 L440.25 109.65 L441.98 108.90 L443.79 108.01 L445.57 107.74 L447.24 107.46 L448.70 106.63 L450.95 106.77 L452.73 107.73 L454.50 109.17 L456.46 109.74 L458.41 109.72 L460.20 109.74 L462.71 110.36 L464.50 110.40" fill="none" stroke="#A8169F" stroke-width="3.0" stroke-linejoin="round" stroke-linecap="round"/>
<path d="M57.00 154.00 C58.17 153.00 60.83 150.20 64.00 148.00 C67.17 145.80 71.27 142.87 76.00 140.80 C80.73 138.73 85.90 137.15 92.40 135.60 C98.90 134.05 108.73 132.55 115.00 131.50 C121.27 130.45 124.08 130.03 130.00 129.30 C135.92 128.57 143.67 127.98 150.50 127.10 C157.33 126.22 164.17 124.85 171.00 124.00 C177.83 123.15 184.67 122.68 191.50 122.00 C198.33 121.32 205.58 120.47 212.00 119.90 C218.42 119.33 223.58 119.17 230.00 118.60 C236.42 118.03 243.67 117.05 250.50 116.50 C257.33 115.95 264.17 115.80 271.00 115.30 C277.83 114.80 284.67 113.98 291.50 113.50 C298.33 113.02 305.58 112.80 312.00 112.40 C318.42 112.00 323.58 111.48 330.00 111.10 C336.42 110.72 343.67 110.37 350.50 110.10 C357.33 109.83 364.17 109.70 371.00 109.50 C377.83 109.30 384.67 109.00 391.50 108.90 C398.33 108.80 404.62 108.93 412.00 108.90 C419.38 108.87 431.83 108.73 435.80 108.70" fill="none" stroke="#C4662A" stroke-width="2.9" stroke-linejoin="round" stroke-linecap="round" stroke-dasharray="5.2 7.05"/>
<path d="M41.20 145.50 L42.80 146.80 L44.80 148.10 L46.46 146.34 L48.00 144.91 L48.86 143.12 L49.64 141.33 L50.60 138.67 L50.99 137.20 L51.39 136.18 L51.83 134.35 L52.28 132.87 L52.74 130.56 L53.22 128.88 L53.71 126.78 L54.20 125.82 L54.70 124.40 L55.79 122.09 L56.89 121.36 L58.12 120.58 L59.60 118.74 L60.47 118.64 L61.42 117.29 L62.43 115.41 L63.49 114.30 L64.58 112.84 L65.67 111.47 L66.75 110.38 L67.80 109.72 L68.97 108.47 L70.14 107.21 L71.31 105.86 L72.49 104.68 L73.66 102.95 L74.83 102.29 L76.00 100.63 L77.37 99.91 L78.73 98.99 L80.10 98.12 L81.47 97.12 L82.83 96.31 L84.20 95.38 L85.84 94.56 L87.48 93.78 L89.12 92.61 L90.76 91.89 L92.40 90.78 L93.94 90.44 L95.38 89.97 L96.87 89.74 L98.56 89.45 L100.60 88.97 L101.92 88.35 L103.37 88.35 L104.92 88.05 L106.54 87.31 L108.22 87.12 L109.93 86.57 L111.64 86.08 L113.34 86.14 L115.00 85.84 L116.67 85.45 L118.39 84.69 L120.13 84.71 L121.89 84.55 L123.63 84.86 L125.33 84.17 L126.98 84.69 L128.54 84.54 L130.00 84.52 L131.98 84.75 L133.75 84.63 L135.39 84.39 L136.97 84.24 L138.55 83.99 L140.20 83.50 L141.91 83.62 L143.63 83.34 L145.35 82.80 L147.07 82.11 L148.79 82.14 L150.50 81.42 L152.20 80.60 L153.90 80.24 L155.60 79.36 L157.30 79.48 L159.00 79.18 L160.70 78.88 L162.41 78.86 L164.13 78.96 L165.85 78.52 L167.57 78.52 L169.29 77.59 L171.00 77.05 L172.70 76.78 L174.40 76.53 L176.10 76.31 L177.80 76.00 L179.50 75.49 L181.20 74.48 L182.91 74.04 L184.63 73.97 L186.35 73.03 L188.07 73.22 L189.79 72.93 L191.50 72.42 L193.20 71.82 L194.90 71.11 L196.60 71.78 L198.30 71.58 L200.00 70.98 L201.70 70.74 L203.41 70.62 L205.13 71.20 L206.85 70.26 L208.57 69.78 L210.29 69.50 L212.00 69.01 L213.73 68.77 L215.50 68.36 L217.26 68.76 L218.98 69.04 L220.64 66.97 L222.20 68.06 L224.02 67.32 L225.46 66.54 L227.21 66.06 L230.00 66.00 L231.26 65.16 L232.68 65.58 L234.23 65.24 L235.89 64.09 L237.64 64.16 L239.46 63.70 L241.32 64.28 L243.20 64.45 L245.08 63.50 L246.94 63.65 L248.75 63.81 L250.50 63.20 L252.21 62.48 L253.92 62.13 L255.62 62.34 L257.33 61.98 L259.04 60.91 L260.75 61.41 L262.46 60.59 L264.17 60.95 L265.88 60.57 L267.58 60.60 L269.29 60.75 L271.00 60.46 L272.74 59.90 L274.54 60.67 L276.37 59.91 L278.21 59.92 L280.06 59.69 L281.89 59.17 L283.69 58.30 L285.43 59.91 L287.10 59.93 L288.68 59.52 L290.15 58.68 L291.50 58.85 L293.79 58.86 L295.66 58.63 L297.24 58.41 L298.67 59.32 L300.11 59.02 L301.70 59.38 L303.32 59.05 L304.84 58.87 L306.36 58.26 L307.99 57.13 L309.84 57.32 L312.00 56.17 L313.37 56.51 L314.88 56.19 L316.51 56.62 L318.22 56.50 L319.98 56.62 L321.77 55.93 L323.55 56.48 L325.29 55.17 L326.97 54.74 L328.55 55.21 L330.00 54.91 L332.09 54.81 L334.05 55.34 L335.89 55.10 L337.61 55.54 L339.25 55.92 L340.81 55.73 L342.30 55.83 L344.17 54.47 L345.78 54.65 L347.27 53.74 L348.80 53.36 L350.50 52.33 L352.08 52.15 L353.75 51.80 L355.47 51.50 L357.22 51.19 L358.97 50.87 L360.70 51.15 L362.41 51.12 L364.13 51.14 L365.85 50.44 L367.57 50.50 L369.29 50.85 L371.00 49.75 L372.70 49.93 L374.40 49.75 L376.10 50.10 L377.80 49.99 L379.50 49.73 L381.20 49.16 L382.91 48.46 L384.63 49.50 L386.35 48.20 L388.07 47.86 L389.79 47.83 L391.50 48.02 L393.23 47.89 L394.98 47.66 L396.72 47.72 L398.44 47.67 L400.11 47.44 L401.70 47.99 L403.55 47.43 L405.35 48.02 L407.06 47.83 L408.63 47.74 L410.00 46.84 L412.22 47.69 L414.30 46.93 L415.90 45.74 L417.73 46.17 L419.64 45.63 L421.50 44.98 L423.28 44.84 L425.05 44.73 L426.82 45.67 L428.60 45.04 L430.44 45.38 L432.33 45.59 L434.15 45.62 L435.80 45.82 L437.65 46.75 L439.26 47.55 L440.80 46.89 L442.34 46.50 L443.82 46.00 L445.20 45.14 L447.08 44.42 L448.70 44.50 L451.00 44.80 L453.00 43.55 L455.90 43.09 L458.00 42.53 L460.20 41.28 L462.34 41.45 L464.20 42.20" fill="none" stroke="#AE0A12" stroke-width="3.0" stroke-linejoin="round" stroke-linecap="round"/>
<path d="M57.00 104.50 C58.80 103.57 63.27 101.10 67.80 98.90 C72.33 96.70 78.73 93.52 84.20 91.30 C89.67 89.08 95.47 87.23 100.60 85.60 C105.73 83.97 110.10 82.38 115.00 81.50 C119.90 80.62 124.08 80.90 130.00 80.30 C135.92 79.70 143.67 79.15 150.50 77.90 C157.33 76.65 164.17 74.53 171.00 72.80 C177.83 71.07 184.67 69.20 191.50 67.50 C198.33 65.80 205.58 64.05 212.00 62.60 C218.42 61.15 223.58 59.92 230.00 58.80 C236.42 57.68 243.67 56.90 250.50 55.90 C257.33 54.90 264.17 53.67 271.00 52.80 C277.83 51.93 284.67 51.45 291.50 50.70 C298.33 49.95 305.58 49.03 312.00 48.30 C318.42 47.57 323.58 47.05 330.00 46.30 C336.42 45.55 343.67 44.73 350.50 43.80 C357.33 42.87 364.17 41.55 371.00 40.70 C377.83 39.85 384.67 39.38 391.50 38.70 C398.33 38.02 405.08 37.22 412.00 36.60 C418.92 35.98 429.50 35.27 433.00 35.00" fill="none" stroke="#219FD0" stroke-width="2.9" stroke-linejoin="round" stroke-linecap="round" stroke-dasharray="5.2 7.05"/>
<line x1="35.9" y1="423.0" x2="97.1" y2="423.0" stroke="#6F9DCF" stroke-width="3.0" stroke-linecap="round"/>
<text x="104.2" y="428.2" font-size="14.8" textLength="128.2" lengthAdjust="spacingAndGlyphs" xml:space="preserve">Acfer 094 (C2-ung)</text>
<line x1="35.9" y1="442.7" x2="97.1" y2="442.7" stroke="#2A4785" stroke-width="3.0" stroke-linecap="round"/>
<text x="104.2" y="447.9" font-size="14.8" textLength="98.6" lengthAdjust="spacingAndGlyphs" xml:space="preserve">Kakangari (K3)</text>
<line x1="35.9" y1="462.4" x2="97.1" y2="462.4" stroke="#76A25E" stroke-width="3.0" stroke-linecap="round"/>
<text x="104.2" y="467.6" font-size="14.8" textLength="128.2" lengthAdjust="spacingAndGlyphs" xml:space="preserve">NWA 8781 (C-ung)</text>
<line x1="35.9" y1="481.9" x2="97.1" y2="481.9" stroke="#F2D47A" stroke-width="2.9" stroke-linecap="round"/>
<text x="104.2" y="487.1" font-size="14.8" textLength="151.5" lengthAdjust="spacingAndGlyphs" xml:space="preserve">SG 009  (Chond-ung) L</text>
<line x1="36.0" y1="501.4" x2="98.5" y2="501.4" stroke="#219FD0" stroke-width="2.9" stroke-linecap="round" stroke-dasharray="5.2 7.05"/>
<text x="104.2" y="506.6" font-size="14.8" textLength="63.7" lengthAdjust="spacingAndGlyphs" xml:space="preserve">Xk_Mean</text>
<line x1="275.4" y1="423.0" x2="336.6" y2="423.0" stroke="#A8169F" stroke-width="3.0" stroke-linecap="round"/>
<text x="344.2" y="428.2" font-size="14.8" textLength="121.6" lengthAdjust="spacingAndGlyphs" xml:space="preserve">Dho 2066  (C-ung)</text>
<line x1="275.4" y1="442.7" x2="336.6" y2="442.7" stroke="#AE0A12" stroke-width="3.0" stroke-linecap="round"/>
<text x="344.2" y="447.9" font-size="14.8" textLength="106.4" lengthAdjust="spacingAndGlyphs" xml:space="preserve">LoV 200 (CH3) L</text>
<line x1="275.4" y1="462.4" x2="336.6" y2="462.4" stroke="#C0601E" stroke-width="3.0" stroke-linecap="round"/>
<text x="344.2" y="467.6" font-size="14.8" textLength="132.8" lengthAdjust="spacingAndGlyphs" xml:space="preserve">NWA 12474 (CR3) L</text>
<line x1="275.5" y1="481.9" x2="338.0" y2="481.9" stroke="#C4662A" stroke-width="2.9" stroke-linecap="round" stroke-dasharray="5.2 7.05"/>
<text x="344.2" y="487.1" font-size="14.8" textLength="63.1" lengthAdjust="spacingAndGlyphs" xml:space="preserve">Xc_Mean</text>
</svg></body></html>
